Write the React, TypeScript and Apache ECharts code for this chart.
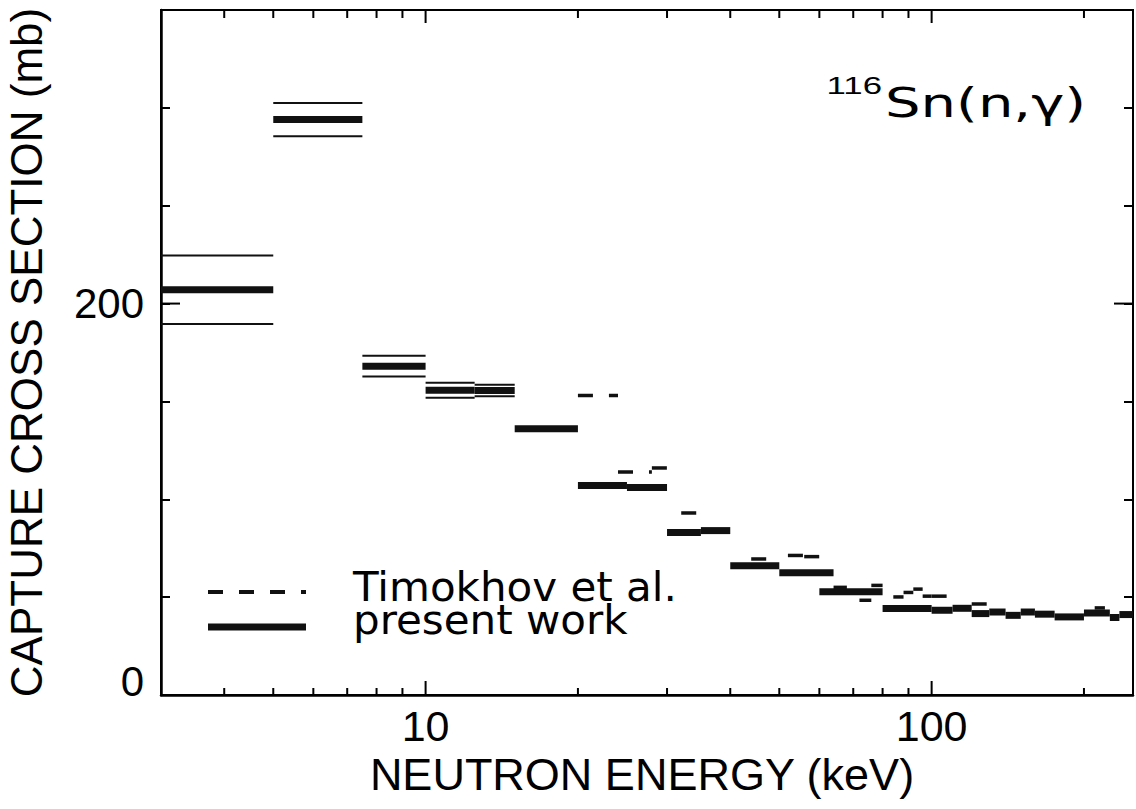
import React, { useEffect, useRef } from 'react';
import * as echarts from 'echarts';

// Present work: energy bins (keV), cross section (mb), uncertainty (mb)
const presentLo = [3, 5, 7.5, 10, 12.5, 15, 20, 25, 30, 35, 40, 50, 60, 80, 100, 110, 120, 130, 140, 150, 160, 175, 200, 225, 235];
const presentHi = [5, 7.5, 10, 12.5, 15, 20, 25, 30, 35, 40, 50, 64, 80, 100, 110, 120, 130, 140, 150, 160, 175, 200, 225, 235, 250];
const presentVal = [207, 294, 168, 155.7, 155.6, 136, 107, 106, 83, 84, 66, 62.4, 52.7, 44.2, 43.3, 44.3, 41.6, 42.4, 40.7, 42.4, 41.3, 39.9, 41.9, 39.6, 41.1];
const presentErr = [17.5, 8.5, 5.3, 3.8, 2.9, 1.5, 1.5, 1.5, 1.2, 1.2, 1.2, 1.2, 1.2, 1, 1, 1, 1, 1, 1, 1, 1, 1, 1, 1, 1];

// Timokhov et al.
const timLo = [20, 24, 28, 32, 44, 52, 56, 64, 72, 76, 84, 88, 92, 96, 100, 120, 210];
const timHi = [24, 28, 30, 36, 50, 56, 60, 68, 76, 80, 88, 92, 96, 100, 108, 130, 220];
const timVal = [153, 114, 116, 93, 69.5, 71.3, 70.7, 55, 48.4, 56, 50.1, 52.4, 54.1, 50.5, 50.5, 46.5, 44.5];

// axes
const xMin = 3;
const xMax = 250;
const yMin = 0;
const yMax = 350;
const yStep = 50;
const xMinorTicks = [4, 5, 6, 7, 8, 9, 20, 30, 40, 50, 60, 70, 80, 90, 200];
const xMajorTicks = [10, 100];
const xLabels = [10, 100];
const yLabels = [0, 200];
const yMajorTicks = [0, 200];

const near = (v: number, list: number[]) => list.some((L) => Math.abs(v - L) <= 1e-6 * Math.max(1, Math.abs(L)));

export default function App() {
  const ref = useRef<HTMLDivElement>(null);
  useEffect(() => {
    const chart = echarts.init(ref.current as HTMLDivElement, null, { renderer: 'svg' });
    const presentData = presentLo.map((lo, i) => [lo, presentHi[i], presentVal[i], presentErr[i]]);
    const timData = timLo.map((lo, i) => [lo, timHi[i], timVal[i]]);
    const xTickData = [...xMinorTicks.map((v) => [v, yMin, 0]), ...xMajorTicks.map((v) => [v, yMin, 1])];
    const yTickData = yMajorTicks.map((v) => [xMin, v]);

    const option: any = {
      animation: false,
      backgroundColor: '#fff',
      grid: {
        left: 161,
        right: 3,
        top: 10,
        bottom: 114,
        containLabel: false,
        outerBoundsMode: 'none',
        show: true,
        borderColor: '#000',
        borderWidth: 2,
        backgroundColor: 'transparent',
      },
      xAxis: {
        type: 'log',
        logBase: 10,
        min: xMin,
        max: xMax,
        axisLine: { show: true, lineStyle: { color: '#000', width: 2.5 } },
        axisTick: { show: false },
        splitLine: { show: false },
        minorTick: { show: false },
        axisLabel: {
          color: '#000',
          fontSize: 43,
          fontFamily: 'Liberation Sans',
          margin: 9,
          showMinLabel: false,
          showMaxLabel: false,
          formatter: (v: number) => (near(v, xLabels) ? String(Math.round(v)) : ''),
        },
        name: 'NEUTRON ENERGY (keV)',
        nameLocation: 'middle',
        nameGap: 48,
        nameTextStyle: { color: '#000', fontSize: 45, fontFamily: 'Liberation Sans', padding: [0, 10, 0, 0] },
      },
      yAxis: [
        {
          type: 'value',
          min: yMin,
          max: yMax,
          interval: yStep,
          axisLine: { show: true, lineStyle: { color: '#000', width: 2.5 } },
          axisTick: { show: true, inside: true, length: 9, lineStyle: { color: '#000', width: 2 } },
          splitLine: { show: false },
          axisLabel: {
            color: '#000',
            fontSize: 42,
            fontFamily: 'Liberation Sans',
            margin: 17,
            formatter: (v: number) => {
              if (!near(v, yLabels)) return '';
              const s = String(Math.round(v));
              return v === yMin ? '{z|' + s + '}' : s;
            },
            rich: {
              z: { fontSize: 42, fontFamily: 'Liberation Sans', color: '#000', padding: [0, 0, 27, 0] },
            },
          },
          name: 'CAPTURE CROSS SECTION (mb)',
          nameLocation: 'middle',
          nameGap: 113,
          nameTextStyle: { color: '#000', fontSize: 44, fontFamily: 'Liberation Sans' },
        },
        {
          type: 'value',
          position: 'right',
          min: yMin,
          max: yMax,
          interval: yStep,
          axisLine: { show: true, lineStyle: { color: '#000', width: 2 } },
          axisTick: { show: true, inside: true, length: 9, lineStyle: { color: '#000', width: 2 } },
          splitLine: { show: false },
          axisLabel: { show: false },
        },
      ],
      series: [
        {
          name: 'present work',
          type: 'custom',
          silent: true,
          clip: false,
          encode: { x: [0, 1], y: [2] },
          data: presentData,
          renderItem: (params: any, api: any) => {
            const lo = api.value(0), hi = api.value(1), v = api.value(2), e = api.value(3);
            const p1 = api.coord([lo, v]);
            const p2 = api.coord([hi, v]);
            const children: any[] = [
              { type: 'line', shape: { x1: p1[0], y1: p1[1], x2: p2[0], y2: p2[1] }, style: { stroke: '#111', lineWidth: 7 } },
            ];
            if (e > 2) {
              const u1 = api.coord([lo, v + e]), u2 = api.coord([hi, v + e]);
              const l1 = api.coord([lo, v - e]), l2 = api.coord([hi, v - e]);
              children.push({ type: 'line', shape: { x1: u1[0], y1: u1[1], x2: u2[0], y2: u2[1] }, style: { stroke: '#111', lineWidth: 2 } });
              children.push({ type: 'line', shape: { x1: l1[0], y1: l1[1], x2: l2[0], y2: l2[1] }, style: { stroke: '#111', lineWidth: 2 } });
            }
            return { type: 'group', children };
          },
        },
        {
          name: 'Timokhov et al.',
          type: 'custom',
          silent: true,
          clip: false,
          encode: { x: [0, 1], y: [2] },
          data: timData,
          renderItem: (params: any, api: any) => {
            const lo = api.value(0), hi = api.value(1), v = api.value(2);
            const p1 = api.coord([lo, v]);
            const p2 = api.coord([hi, v]);
            return {
              type: 'line',
              shape: { x1: p1[0], y1: p1[1], x2: p2[0], y2: p2[1] },
              style: { stroke: '#111', lineWidth: 3.5, lineDash: [15, 16] },
            };
          },
        },
        {
          name: 'xticks',
          type: 'custom',
          silent: true,
          clip: false,
          encode: { x: [0], y: [1] },
          data: xTickData,
          renderItem: (params: any, api: any) => {
            const cs = params.coordSys;
            const p = api.coord([api.value(0), api.value(1)]);
            const L = api.value(2) ? 14 : 7;
            const Lt = api.value(2) ? 13 : 8;
            const yb = cs.y + cs.height;
            const yt = cs.y;
            return {
              type: 'group',
              children: [
                { type: 'line', shape: { x1: p[0], y1: yb, x2: p[0], y2: yb - L }, style: { stroke: '#000', lineWidth: 2 } },
                { type: 'line', shape: { x1: p[0], y1: yt, x2: p[0], y2: yt + Lt }, style: { stroke: '#000', lineWidth: 2 } },
              ],
            };
          },
        },
        {
          name: 'yticks',
          type: 'custom',
          silent: true,
          clip: false,
          encode: { x: [0], y: [1] },
          data: yTickData,
          renderItem: (params: any, api: any) => {
            const cs = params.coordSys;
            const p = api.coord([api.value(0), api.value(1)]);
            const xl = cs.x;
            const xr = cs.x + cs.width;
            return {
              type: 'group',
              children: [
                { type: 'line', shape: { x1: xl, y1: p[1], x2: xl + 19, y2: p[1] }, style: { stroke: '#000', lineWidth: 2 } },
                { type: 'line', shape: { x1: xr, y1: p[1], x2: xr - 19, y2: p[1] }, style: { stroke: '#000', lineWidth: 2 } },
              ],
            };
          },
        },
      ],
      graphic: [
        { type: 'line', shape: { x1: 208, y1: 592, x2: 306, y2: 592 }, style: { stroke: '#111', lineWidth: 4, lineDash: [15, 16] } },
        { type: 'line', shape: { x1: 208, y1: 627, x2: 306, y2: 627 }, style: { stroke: '#111', lineWidth: 7 } },
        {
          type: 'text',
          x: 353,
          y: 603.5,
          scaleX: 1.05,
          style: {
            text: 'Timokhov et al.\npresent work',
            fill: '#000',
            font: '40px "DejaVu Sans"',
            lineHeight: 33,
            textAlign: 'left',
            textVerticalAlign: 'middle',
          },
        },
        {
          type: 'text',
          x: 882,
          y: 86,
          scaleX: 1.45,
          style: { text: '116', fill: '#000', font: '24px "Liberation Sans"', textAlign: 'right', textVerticalAlign: 'middle' },
        },
        {
          type: 'text',
          x: 885,
          y: 103,
          scaleX: 1.4,
          style: { text: 'Sn(n,γ)', fill: '#000', font: '40px "DejaVu Sans"', textAlign: 'left', textVerticalAlign: 'middle' },
        },
      ],
    };
    chart.setOption(option);
    return () => chart.dispose();
  }, []);
  return <div ref={ref} style={{ position: 'fixed', left: 0, top: 0, width: 1136, height: 809, background: '#fff' }} />;
}
